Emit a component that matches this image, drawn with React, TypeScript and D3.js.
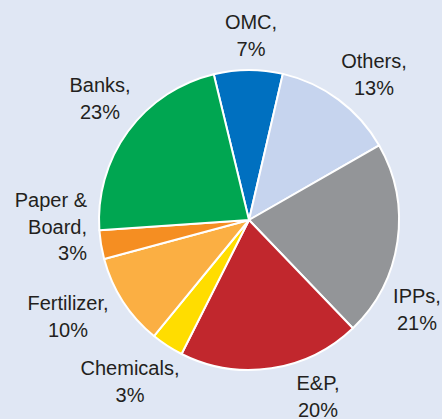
import React, { useEffect } from "react";
import * as d3 from "d3";

const categories = ["OMC", "Others", "IPPs", "E&P", "Chemicals", "Fertilizer", "Paper & Board", "Banks"];
const values = [7.4, 13.1, 21.1, 19.6, 3.5, 9.9, 3.1, 22.3];
const labelLines = [
  ["OMC,", "7%"],
  ["Others,", "13%"],
  ["IPPs,", "21%"],
  ["E&P,", "20%"],
  ["Chemicals,", "3%"],
  ["Fertilizer,", "10%"],
  ["Paper &", "Board,", "3%"],
  ["Banks,", "23%"],
];

const COLORS = ["#0070C0", "#C6D4EE", "#939598", "#C1272D", "#FFDD00", "#FBAF43", "#F58E22", "#00A651"];
// label anchor positions (x, first baseline) and alignment
const LABEL_LAYOUT: [number, number, "middle" | "end"][] = [
  [251, 29, "middle"],
  [374, 68, "middle"],
  [417, 303, "middle"],
  [318, 390, "middle"],
  [130, 375, "middle"],
  [68, 310, "middle"],
  [87, 207, "end"],
  [100, 92, "middle"],
];

const W = 442;
const H = 419;
const CX = 249;
const CY = 220;
const R = 150;
const START = (-13.6 * Math.PI) / 180;

export default function App() {
  useEffect(() => {
    document.body.style.margin = "0";
  }, []);
  const pie = d3
    .pie<number>()
    .sort(null)
    .value((d) => d)
    .startAngle(START)
    .endAngle(START + 2 * Math.PI);
  const arcs = pie(values);
  const arc = d3.arc<d3.PieArcDatum<number>>().innerRadius(0).outerRadius(R);
  return (
    <svg width={W} height={H} style={{ position: "absolute", left: 0, top: 0, display: "block" }}>
      <rect width={W} height={H} fill="#E0E7F4" />
      <g transform={`translate(${CX},${CY})`}>
        {arcs.map((a, i) => (
          <path key={categories[i]} d={arc(a) || ""} fill={COLORS[i]} stroke="#FFFFFF" strokeWidth={2} strokeLinejoin="round" />
        ))}
      </g>
      <g fontFamily="'Liberation Sans', Arial, sans-serif" fontSize={20} fill="#231F20">
        {labelLines.map((lines, i) => {
          const [x, y, anchor] = LABEL_LAYOUT[i];
          return (
            <text key={categories[i]} x={x} y={y} textAnchor={anchor}>
              {lines.map((l, j) => (
                <tspan key={j} x={x} y={y + j * 26.5}>
                  {l}
                </tspan>
              ))}
            </text>
          );
        })}
      </g>
    </svg>
  );
}
